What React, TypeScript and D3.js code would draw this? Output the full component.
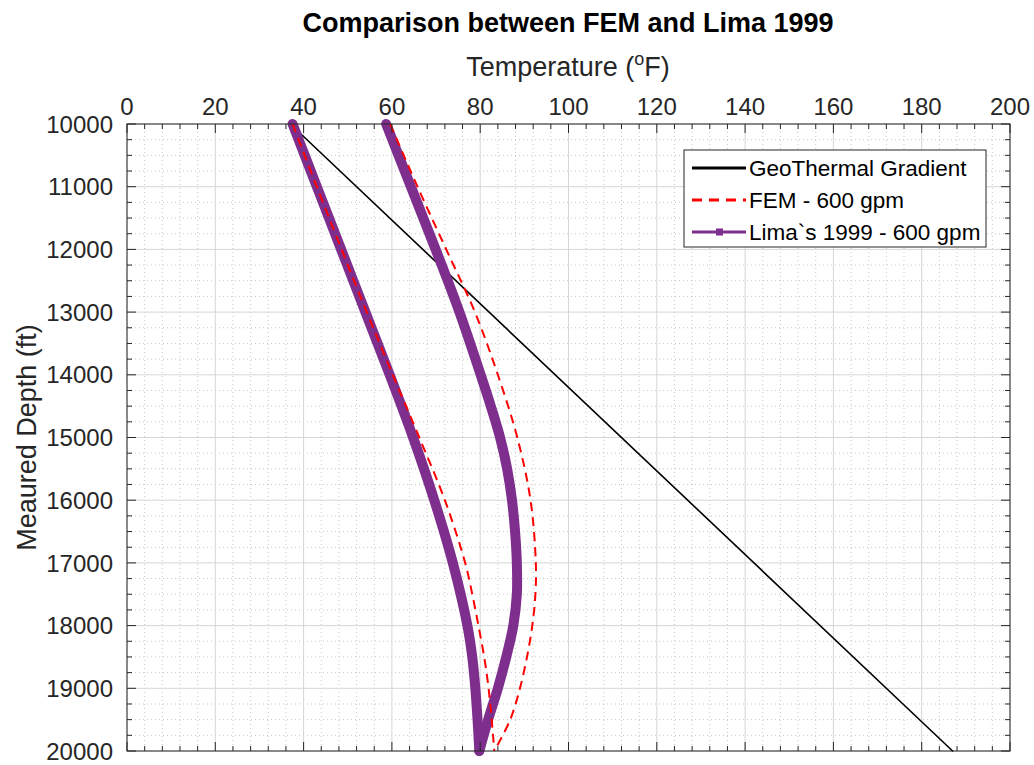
import React from "react";
import * as d3 from "d3";

// Geothermal gradient (°F vs measured depth)
const geoDepth = [10000, 20000];
const geoTemp = [37, 187];

// FEM model, 600 gpm – down the drill string and back up the annulus
const femTubingDepth = [10000, 11000, 12000, 13000, 14000, 15000, 16000, 17000, 17500, 18000, 18500, 19000, 19500, 20000];
const femTubingTemp = [37.5, 43, 48.6, 54.3, 60.2, 66.2, 72, 76.6, 78.2, 79.6, 80.9, 81.9, 82.6, 83.2];
const femAnnulusDepth = [10000, 11000, 12000, 13000, 14000, 15000, 16000, 17000, 17500, 18000, 18500, 19000, 19500, 20000];
const femAnnulusTemp = [59.6, 65.8, 72.3, 78.8, 84, 88.4, 91.4, 92.6, 92.5, 91.8, 90.6, 89, 86.8, 83.2];

// Lima 1999, 600 gpm
const limaTubingDepth = [10000, 11000, 12000, 13000, 14000, 15000, 16000, 17000, 18000, 18500, 19000, 19500, 20000];
const limaTubingTemp = [37.5, 43, 48.5, 54, 59.5, 64.8, 69.6, 73.8, 77.1, 78.2, 78.9, 79.4, 79.8];
const limaAnnulusDepth = [10000, 11000, 12000, 13000, 14000, 14500, 15000, 15500, 16000, 16500, 17000, 17500, 18000, 18500, 19000, 19500, 20000];
const limaAnnulusTemp = [58.7, 64.3, 69.9, 75.3, 80.1, 82.4, 84.5, 86.1, 87.2, 87.9, 88.3, 88.3, 87.5, 85.9, 84, 81.8, 79.8];

const tempTicks = [0, 20, 40, 60, 80, 100, 120, 140, 160, 180, 200];
const depthTicks = [10000, 11000, 12000, 13000, 14000, 15000, 16000, 17000, 18000, 19000, 20000];

const legendLabels = ["GeoThermal Gradient", "FEM - 600 gpm", "Lima`s 1999 - 600 gpm"];

const W = 1034;
const H = 765;
const L = 127;
const R = 1010;
const T = 124;
const B = 751;
const FONT = "'Liberation Sans', Arial, Helvetica, sans-serif";
const AX = "#262626";
const PURPLE = "#7E2F8E";
const RED = "#FF0000";

export default function App() {
  const x = d3.scaleLinear().domain([0, 200]).range([L, R]);
  const y = d3.scaleLinear().domain([10000, 20000]).range([T, B]);

  const minorX = d3.range(0, 200.01, 4).filter((v) => v % 20 !== 0);
  const minorY = d3.range(10000, 20000.1, 250).filter((v) => v % 1000 !== 0);

  const line = d3
    .line<[number, number]>()
    .x((d) => x(d[0]))
    .y((d) => y(d[1]))
    .curve(d3.curveCatmullRom.alpha(0.5));
  const path = (temps: number[], depths: number[]) =>
    line(temps.map((t, i) => [t, depths[i]] as [number, number])) || "";

  const majTick = 9;
  const minTick = 5;

  const legendX = 684;
  const legendY = 150;
  const rows = [168, 200, 232];

  return (
    <svg
      width={W}
      height={H}
      style={{ position: "absolute", left: 0, top: 0, background: "#fff" }}
      fontFamily={FONT}
    >
      <rect x={0} y={0} width={W} height={H} fill="#fff" />
      {/* minor grid */}
      <g stroke="#c8c8c8" strokeWidth={1} strokeDasharray="1,3">
        {minorX.map((v) => (
          <line key={"mx" + v} x1={x(v)} x2={x(v)} y1={T} y2={B} />
        ))}
        {minorY.map((v) => (
          <line key={"my" + v} x1={L} x2={R} y1={y(v)} y2={y(v)} />
        ))}
      </g>
      {/* major grid */}
      <g stroke="#d6d6d6" strokeWidth={1}>
        {tempTicks.map((v) => (
          <line key={"gx" + v} x1={x(v)} x2={x(v)} y1={T} y2={B} />
        ))}
        {depthTicks.map((v) => (
          <line key={"gy" + v} x1={L} x2={R} y1={y(v)} y2={y(v)} />
        ))}
      </g>

      {/* data */}
      <g fill="none" strokeLinejoin="round" strokeLinecap="round">
        <path d={path(geoTemp, geoDepth)} stroke="#000" strokeWidth={1.6} />
        <path d={path(limaTubingTemp, limaTubingDepth)} stroke={PURPLE} strokeWidth={10} />
        <path d={path(limaAnnulusTemp, limaAnnulusDepth)} stroke={PURPLE} strokeWidth={10} />
        <path d={path(femTubingTemp, femTubingDepth)} stroke={RED} strokeWidth={2} strokeDasharray="9,6" strokeLinecap="butt" />
        <path d={path(femAnnulusTemp, femAnnulusDepth)} stroke={RED} strokeWidth={2} strokeDasharray="9,6" strokeLinecap="butt" />
      </g>

      {/* axes box and ticks */}
      <rect x={L} y={T} width={R - L} height={B - T} fill="none" stroke={AX} strokeWidth={1} />
      <g stroke={AX} strokeWidth={1}>
        {tempTicks.map((v) => (
          <g key={"tx" + v}>
            <line x1={x(v)} x2={x(v)} y1={T} y2={T + majTick} />
            <line x1={x(v)} x2={x(v)} y1={B} y2={B - majTick} />
          </g>
        ))}
        {minorX.map((v) => (
          <g key={"tmx" + v}>
            <line x1={x(v)} x2={x(v)} y1={T} y2={T + minTick} />
            <line x1={x(v)} x2={x(v)} y1={B} y2={B - minTick} />
          </g>
        ))}
        {depthTicks.map((v) => (
          <g key={"ty" + v}>
            <line x1={L} x2={L + majTick} y1={y(v)} y2={y(v)} />
            <line x1={R} x2={R - majTick} y1={y(v)} y2={y(v)} />
          </g>
        ))}
        {minorY.map((v) => (
          <g key={"tmy" + v}>
            <line x1={L} x2={L + minTick} y1={y(v)} y2={y(v)} />
            <line x1={R} x2={R - minTick} y1={y(v)} y2={y(v)} />
          </g>
        ))}
      </g>

      {/* tick labels */}
      <g fill={AX} fontSize={24}>
        {tempTicks.map((v) => (
          <text key={"lx" + v} x={x(v)} y={115} textAnchor="middle">
            {v}
          </text>
        ))}
        {depthTicks.map((v) => (
          <text key={"ly" + v} x={113} y={y(v)} dy="0.36em" textAnchor="end">
            {v}
          </text>
        ))}
      </g>

      {/* titles */}
      <text x={568} y={32} textAnchor="middle" fontSize={27} fontWeight="bold" fill="#000">
        Comparison between FEM and Lima 1999
      </text>
      <text x={568} y={76} textAnchor="middle" fontSize={27} fill={AX}>
        Temperature (<tspan fontSize={18} dy={-11}>o</tspan>
        <tspan dy={11}>F)</tspan>
      </text>
      <text
        transform={`translate(36, ${(T + B) / 2}) rotate(-90)`}
        textAnchor="middle"
        fontSize={27}
        fill={AX}
      >
        Meaured Depth (ft)
      </text>

      {/* legend */}
      <rect x={legendX} y={legendY} width={986 - legendX} height={247 - legendY} fill="#fff" stroke={AX} strokeWidth={1} />
      <line x1={692} x2={746} y1={rows[0]} y2={rows[0]} stroke="#000" strokeWidth={3} />
      <line x1={692} x2={746} y1={rows[1]} y2={rows[1]} stroke={RED} strokeWidth={3} strokeDasharray="10,7" />
      <line x1={692} x2={746} y1={rows[2]} y2={rows[2]} stroke={PURPLE} strokeWidth={3} />
      <rect x={716} y={rows[2] - 3.5} width={7} height={7} fill={PURPLE} />
      <g fontSize={22.5} fill="#000">
        {legendLabels.map((s, i) => (
          <text key={s} x={749} y={rows[i]} dy="0.36em">
            {s}
          </text>
        ))}
      </g>
    </svg>
  );
}
